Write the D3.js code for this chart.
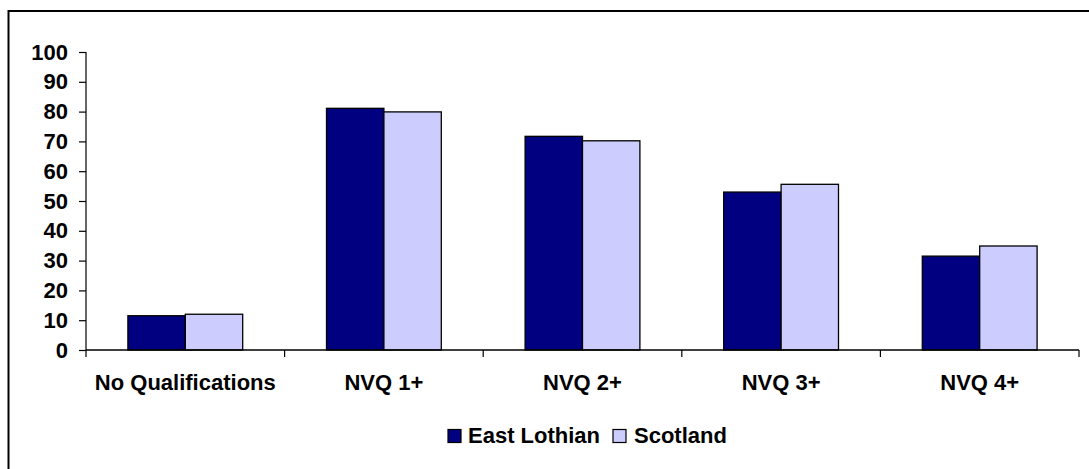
<!DOCTYPE html>
<html>
<head>
<meta charset="utf-8">
<script src="https://cdn.jsdelivr.net/npm/d3@7"></script>
<style>
  body { margin: 0; background: #fff; }
  text { font-family: "Liberation Sans", Arial, sans-serif; font-weight: bold; fill: #000; }
</style>
</head>
<body>
<script>
const categories = ["No Qualifications", "NVQ 1+", "NVQ 2+", "NVQ 3+", "NVQ 4+"];
const seriesNames = ["East Lothian", "Scotland"];
const eastLothian = [11.5, 81.1, 71.7, 53.0, 31.5];
const scotland = [12.0, 79.9, 70.2, 55.6, 34.9];
const yTicks = [0, 10, 20, 30, 40, 50, 60, 70, 80, 90, 100];
const colors = ["#000080", "#CCCCFF"];

const W = 1089, H = 469;
const svg = d3.select("body").append("svg")
  .attr("width", W)
  .attr("height", H);

// outer frame (right and bottom run off the picture)
svg.append("rect")
  .attr("x", 8.5).attr("y", 11)
  .attr("width", W + 20).attr("height", H + 20)
  .attr("fill", "none")
  .attr("stroke", "#000")
  .attr("stroke-width", 2);

const pLeft = 86, pRight = 1079, pTop = 52, pBottom = 350;

const x = d3.scaleBand().domain(categories).range([pLeft, pRight]);
const inner = d3.scaleBand().domain(seriesNames)
  .range([0, x.bandwidth()]).paddingOuter(0.73);
const y = d3.scaleLinear().domain([0, 100]).range([pBottom, pTop]);

const rows = categories.map((c, i) => ({ cat: c, vals: [eastLothian[i], scotland[i]] }));

const groups = svg.selectAll("g.grp")
  .data(rows)
  .enter().append("g")
  .attr("class", "grp")
  .attr("transform", d => `translate(${x(d.cat)},0)`);

groups.selectAll("rect")
  .data(d => d.vals.map((v, j) => ({ name: seriesNames[j], v: v, j: j })))
  .enter().append("rect")
  .attr("x", d => inner(d.name))
  .attr("width", inner.bandwidth())
  .attr("y", d => y(d.v))
  .attr("height", d => y(0) - y(d.v))
  .attr("fill", d => colors[d.j])
  .attr("stroke", "#000")
  .attr("stroke-width", 1.3);

// y axis
const yAxis = svg.append("g")
  .attr("transform", `translate(${pLeft},0)`)
  .call(d3.axisLeft(y).tickValues(yTicks).tickSize(7).tickPadding(11));
yAxis.selectAll("text").style("font-size", "22px").attr("font-family", null);
yAxis.selectAll("path, line").attr("stroke", "#000").attr("stroke-width", 1.2);
yAxis.select(".domain").attr("d", `M0,${pTop}V${pBottom}`);

// x axis with ticks between categories
const xAxis = svg.append("g");
xAxis.append("line")
  .attr("x1", pLeft).attr("x2", pRight)
  .attr("y1", pBottom).attr("y2", pBottom)
  .attr("stroke", "#000").attr("stroke-width", 1.5);
const bounds = categories.map(c => x(c)).concat([pRight]);
xAxis.selectAll("line.tk")
  .data(bounds)
  .enter().append("line")
  .attr("class", "tk")
  .attr("x1", d => d).attr("x2", d => d)
  .attr("y1", pBottom).attr("y2", pBottom + 7)
  .attr("stroke", "#000").attr("stroke-width", 1.2);
xAxis.selectAll("text")
  .data(categories)
  .enter().append("text")
  .attr("x", d => x(d) + x.bandwidth() / 2)
  .attr("y", 390)
  .attr("text-anchor", "middle")
  .style("font-size", "22px")
  .text(d => d);

// legend
const legend = svg.append("g");
const legendItems = [
  { name: seriesNames[0], sx: 448, tx: 468 },
  { name: seriesNames[1], sx: 613, tx: 634 }
];
legend.selectAll("rect")
  .data(legendItems)
  .enter().append("rect")
  .attr("x", d => d.sx).attr("y", 429.5)
  .attr("width", 13).attr("height", 13)
  .attr("fill", (d, i) => colors[i])
  .attr("stroke", "#000").attr("stroke-width", 1.2);
legend.selectAll("text")
  .data(legendItems)
  .enter().append("text")
  .attr("x", d => d.tx).attr("y", 443)
  .style("font-size", "22px")
  .text(d => d.name);
</script>
</body>
</html>
